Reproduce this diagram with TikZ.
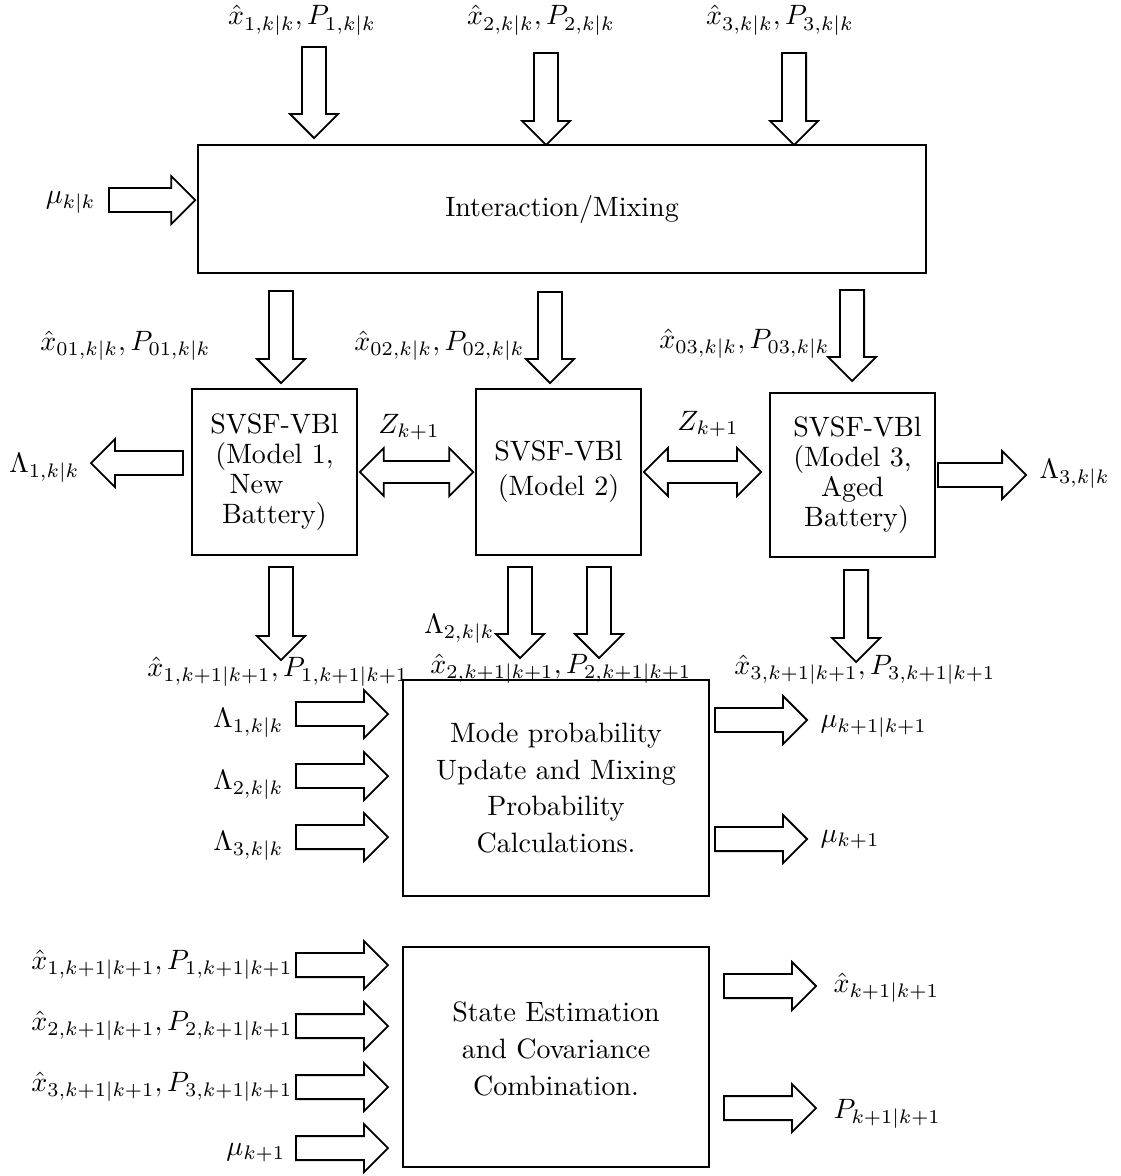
\documentclass[tikz,border=0pt]{standalone}
\usepackage{amsmath}
\usetikzlibrary{calc}

\newcommand\setfs[2]{\fontsize{#1}{#2}\selectfont}

\tikzset{
  % outlined block arrow from tail centre to tip
  % (offsets are given before the 2.8x enlargement of the picture)
  fat/.style={line width=1.8pt, line join=miter, to path={
    -- ($(\tikztostart)!4.29pt!90:(\tikztotarget)$)
    -- ($(\tikztotarget)!8.57pt!(\tikztostart)!4.29pt!90:(\tikztotarget)$)
    -- ($(\tikztotarget)!8.57pt!(\tikztostart)!8.57pt!90:(\tikztotarget)$)
    -- (\tikztotarget)
    -- ($(\tikztotarget)!8.57pt!(\tikztostart)!8.57pt!-90:(\tikztotarget)$)
    -- ($(\tikztotarget)!8.57pt!(\tikztostart)!4.29pt!-90:(\tikztotarget)$)
    -- ($(\tikztostart)!4.29pt!-90:(\tikztotarget)$)
    -- cycle}},
  % outlined double-headed block arrow between two tips
  dfat/.style={line width=1.8pt, line join=miter, to path={
    -- ($(\tikztostart)!8.57pt!(\tikztotarget)!8.57pt!90:(\tikztotarget)$)
    -- ($(\tikztostart)!8.57pt!(\tikztotarget)!3.93pt!90:(\tikztotarget)$)
    -- ($(\tikztotarget)!8.57pt!(\tikztostart)!3.93pt!90:(\tikztotarget)$)
    -- ($(\tikztotarget)!8.57pt!(\tikztostart)!8.57pt!90:(\tikztotarget)$)
    -- (\tikztotarget)
    -- ($(\tikztotarget)!8.57pt!(\tikztostart)!8.57pt!-90:(\tikztotarget)$)
    -- ($(\tikztotarget)!8.57pt!(\tikztostart)!3.93pt!-90:(\tikztotarget)$)
    -- ($(\tikztostart)!8.57pt!(\tikztotarget)!3.93pt!-90:(\tikztotarget)$)
    -- ($(\tikztostart)!8.57pt!(\tikztotarget)!8.57pt!-90:(\tikztotarget)$)
    -- cycle}},
  % nodes are built at 10pt and enlarged with the picture
  blk/.style={draw, line width=2pt, inner sep=0pt, align=center,
    font=\setfs{10}{10.7}},
  lbl/.style={inner sep=0pt, font=\setfs{10}{12}}
}

\begin{document}
\begin{tikzpicture}[x=0.357143pt, y=-0.357143pt, scale=2.8,
  every node/.append style={transform shape}]
\useasboundingbox (0,0) rectangle (1120,1176);

% processing blocks
\node[blk, minimum width=260pt, minimum height=45.71pt] (mix) at (562,209) {Interaction/Mixing};
\node[blk, minimum width=58.93pt, minimum height=59.29pt] (m1) at (274.5,472)
  {SVSF-VBl\\(Model 1,\\New\rule{12.9pt}{0pt}\\Battery)};
\node[blk, font=\setfs{10}{12.5}, minimum width=58.93pt, minimum height=59.29pt] (m2) at (558.5,472)
  {SVSF-VBl\\(Model 2)};
\node[blk, minimum width=58.93pt, minimum height=58.57pt] (m3) at (852.5,475)
  {\rule{3.6pt}{0pt}SVSF-VBl\\(Model 3,\\Aged\\\rule{2.9pt}{0pt}Battery)};
\node[blk, font=\setfs{10}{13}, minimum width=109.29pt, minimum height=77.14pt] (mode) at (556,788)
  {Mode probability\\Update and Mixing\\Probability\\Calculations.};
\node[blk, font=\setfs{10}{13.2}, minimum width=109.29pt, minimum height=78.57pt] (est) at (556,1057)
  {State Estimation\\and Covariance\\Combination.\\[-7pt]\mbox{}};

% signal labels
\node[lbl, anchor=base] (xin1) at (302,25) {$\hat{x}_{1,k|k}, P_{1,k|k}$};
\node[lbl, anchor=base] (xin2) at (541,25) {$\hat{x}_{2,k|k}, P_{2,k|k}$};
\node[lbl, anchor=base] (xin3) at (780,25) {$\hat{x}_{3,k|k}, P_{3,k|k}$};
\node[lbl, anchor=base east] (muin) at (96,203) {$\mu_{k|k}$};
\node[lbl, anchor=base east] (x01) at (211,350) {$\hat{x}_{01,k|k}, P_{01,k|k}$};
\node[lbl, anchor=base east] (x02) at (525,350) {$\hat{x}_{02,k|k}, P_{02,k|k}$};
\node[lbl, anchor=base east] (x03) at (830,348) {$\hat{x}_{03,k|k}, P_{03,k|k}$};
\node[lbl, anchor=base east] (lamA) at (80,472) {$\Lambda_{1,k|k}$};
\node[lbl, anchor=base] (z12) at (409,433) {$Z_{k+1}$};
\node[lbl, anchor=base] (z23) at (708,430) {$Z_{k+1}$};
\node[lbl, anchor=base west] (lamC) at (1039,478) {$\Lambda_{3,k|k}$};
\node[lbl, anchor=base east] (lamB) at (495,633) {$\Lambda_{2,k|k}$};
\node[lbl, anchor=base] (xo1) at (278,676) {$\hat{x}_{1,k+1|k+1}, P_{1,k+1|k+1}$};
\node[lbl, anchor=base] (xo2) at (561,673) {$\hat{x}_{2,k+1|k+1}, P_{2,k+1|k+1}$};
\node[lbl, anchor=base] (xo3) at (865,674) {$\hat{x}_{3,k+1|k+1}, P_{3,k+1|k+1}$};
\node[lbl, anchor=base east] (li1) at (284,727) {$\Lambda_{1,k|k}$};
\node[lbl, anchor=base east] (li2) at (284,789) {$\Lambda_{2,k|k}$};
\node[lbl, anchor=base east] (li3) at (284,850) {$\Lambda_{3,k|k}$};
\node[lbl, anchor=base west] (mo1) at (820,727) {$\mu_{k+1|k+1}$};
\node[lbl, anchor=base west] (mo2) at (820,842) {$\mu_{k+1}$};
\node[lbl, anchor=base east] (si1) at (293,969) {$\hat{x}_{1,k+1|k+1}, P_{1,k+1|k+1}$};
\node[lbl, anchor=base east] (si2) at (293,1030) {$\hat{x}_{2,k+1|k+1}, P_{2,k+1|k+1}$};
\node[lbl, anchor=base east] (si3) at (293,1091) {$\hat{x}_{3,k+1|k+1}, P_{3,k+1|k+1}$};
\node[lbl, anchor=base east] (si4) at (286,1155) {$\mu_{k+1}$};
\node[lbl, anchor=base west] (so1) at (833,992) {$\hat{x}_{k+1|k+1}$};
\node[lbl, anchor=base west] (so2) at (833,1118) {$P_{k+1|k+1}$};

% arrow end points
\coordinate (t1s) at (314,47);   \coordinate (t1e) at (314,138);
\coordinate (t2s) at (546,53);   \coordinate (t2e) at (546,145);
\coordinate (t3s) at (794,53);   \coordinate (t3e) at (794,145);
\coordinate (mus) at (109,200);  \coordinate (mue) at (mix.west |- mus);
\coordinate (d1s) at (281,291);  \coordinate (d1e) at (281,383);
\coordinate (d2s) at (550,292);  \coordinate (d2e) at (550,383);
\coordinate (d3s) at (852,290);  \coordinate (d3e) at (852,381);
\coordinate (l1s) at (183,463);  \coordinate (l1e) at (91,463);
\coordinate (z2e) at (761,472);
\coordinate (l3e) at (1026,475);
\coordinate (b1s) at (281,567);  \coordinate (b1e) at (281,660);
\coordinate (b2s) at (520,567);  \coordinate (b2e) at (520,658);
\coordinate (b3s) at (599,567);  \coordinate (b3e) at (599,658);
\coordinate (b4s) at (856,570);  \coordinate (b4e) at (856,662);
\coordinate (i1s) at (296,714);  \coordinate (i1e) at (388,714);
\coordinate (i2s) at (296,776);  \coordinate (i2e) at (388,776);
\coordinate (i3s) at (296,837);  \coordinate (i3e) at (388,837);
\coordinate (o1s) at (715,720);  \coordinate (o1e) at (807,720);
\coordinate (o2s) at (715,839);  \coordinate (o2e) at (807,839);
\coordinate (e1s) at (296,965);  \coordinate (e1e) at (388,965);
\coordinate (e2s) at (296,1026); \coordinate (e2e) at (388,1026);
\coordinate (e3s) at (296,1087); \coordinate (e3e) at (388,1087);
\coordinate (e4s) at (296,1148); \coordinate (e4e) at (388,1148);
\coordinate (f1s) at (724,986);  \coordinate (f1e) at (816,986);
\coordinate (f2s) at (724,1108); \coordinate (f2e) at (816,1108);

% block arrows
\foreach \a in {t1,t2,t3,mu,d1,d2,d3,l1,b1,b2,b3,b4,i1,i2,i3,o1,o2,e1,e2,e3,e4,f1,f2}
  \draw[fat] (\a s) to (\a e);
\draw[fat] (m3.east |- l3e) to (l3e);
\draw[dfat] (m1.east) to (m2.west);
\draw[dfat] (m2.east) to (z2e);
\end{tikzpicture}
\end{document}
